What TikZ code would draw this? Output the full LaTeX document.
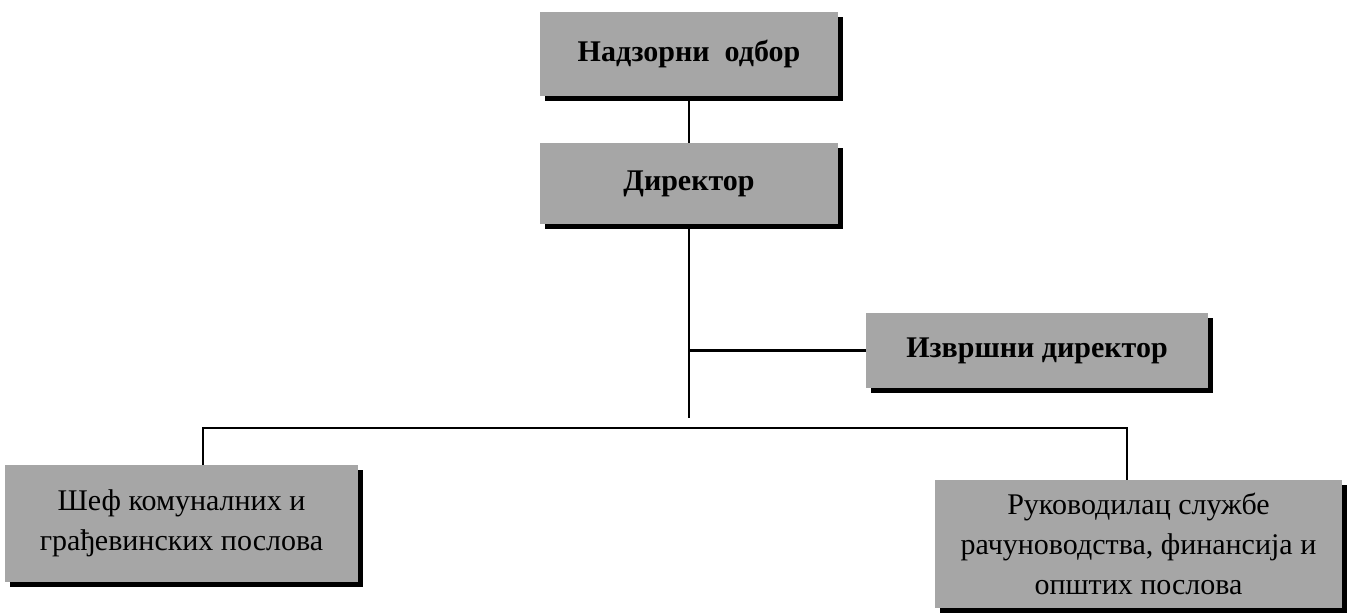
\documentclass[tikz,border=0pt]{standalone}
\usepackage{fontspec}
\setmainfont{Liberation Serif}
\usetikzlibrary{shadows}
\tikzset{
  box/.style={fill=black!35, draw=none, inner sep=2pt, align=center,
    font=\fontsize{30}{40}\selectfont,
    drop shadow={shadow xshift=4.5pt, shadow yshift=-4.5pt, fill=black, opacity=1}},
  headbox/.style={box, font=\fontsize{30}{40}\selectfont\bfseries},
  link/.style={draw=black, line width=2.2pt}
}
\begin{document}
\begin{tikzpicture}[x=1pt,y=-1pt]
\useasboundingbox (0,0) rectangle (1350,614);
\node[headbox, minimum width=298pt, minimum height=84pt] (nadz) at (689,54) {Надзорни\ \ одбор};
\node[headbox, minimum width=298pt, minimum height=81pt] (dir) at (689,183.5) {Директор};
\node[headbox, minimum width=342pt, minimum height=75pt] (izv) at (1037,350.5) {Извршни директор};
\node[box, minimum width=353pt, minimum height=117pt] (sef) at (181.5,523.5) {Шеф комуналних и\\грађевинских послова};
\node[box, minimum width=407pt, minimum height=128pt] (ruk) at (1138.5,544) {Руководилац службе\\рачуноводства, финансија и\\општих послова};
\coordinate (spine) at (689,418);
\coordinate (busL) at (203,428);
\coordinate (busR) at (1127,428);
\path[link] (nadz.south) -- (dir.north);
\path[link] (dir.south) -- (spine);
\path[link] (dir.south |- izv.west) -- (izv.west);
\path[link] (sef.north -| busL) -- (busL) -- (busR) -- (busR |- ruk.north);
\end{tikzpicture}
\end{document}
